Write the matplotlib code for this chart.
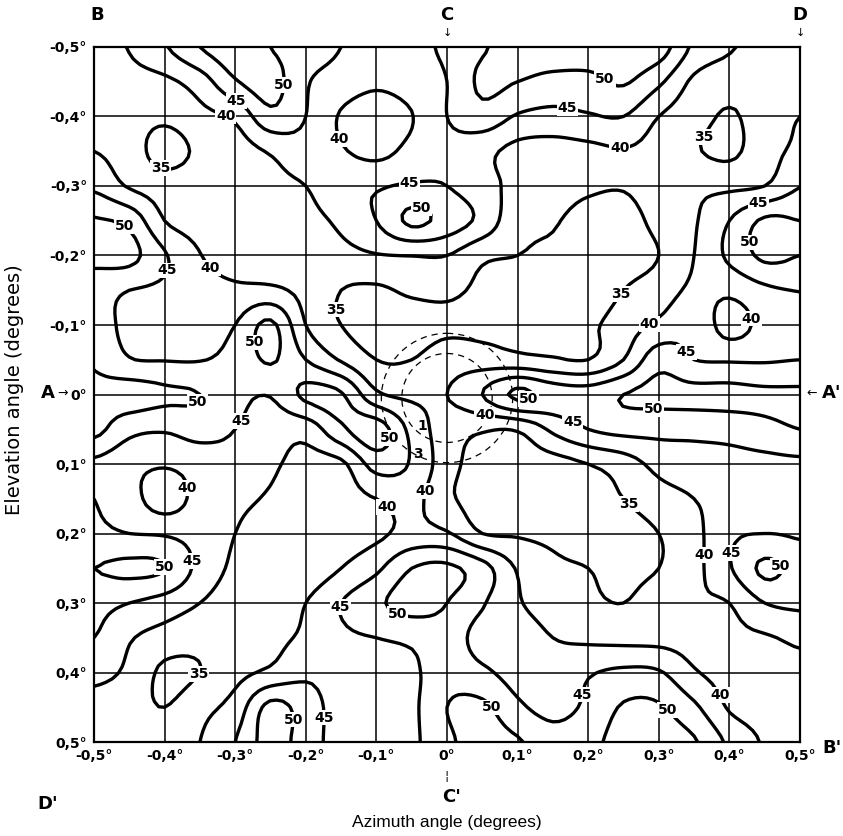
import matplotlib
matplotlib.use('Agg')
import matplotlib.pyplot as plt
import numpy as np
from matplotlib.patches import Circle

# grid nodes every 0.05 deg (azimuth left->right, elevation top->bottom)
azimuth = np.linspace(-0.5, 0.5, 21)
elevation = np.linspace(-0.5, 0.5, 21)
levels = [35, 40, 45, 50]

# values at the grid nodes
values = [
    [39, 40.2, 44.5, 50, 53, 50, 47.5, 45, 43, 43.5, 46, 49.5, 52, 53, 53, 53, 52.5, 44, 40.5, 38.5, 38],
    [38, 38.5, 39, 42.5, 49.5, 52, 45.5, 43, 41, 42.5, 45, 51, 50, 48.5, 48.5, 50.5, 46, 39, 37, 37, 38],
    [38.5, 37, 36, 38.5, 41, 48.5, 45, 39.5, 37, 39.8, 45, 48, 44.5, 43.5, 44.5, 45, 40, 37, 34.5, 37.5, 40],
    [40, 37.5, 33, 36, 37.5, 40.5, 43, 40.5, 38.5, 41.5, 43.5, 41.5, 38.5, 38, 38.5, 39.5, 38, 35.5, 34, 38, 41],
    [44, 39.5, 37.5, 37.5, 37, 38.5, 40, 43.5, 44.5, 45.5, 45, 42, 38.5, 37.5, 36, 35.5, 38, 39, 39, 40, 44.8],
    [50.5, 48.5, 40, 38, 37, 37.5, 38.5, 41, 45, 51, 48, 43.5, 36.5, 35.5, 33, 33, 36.5, 39.5, 45, 50.8, 50],
    [51.5, 51.5, 45.5, 40.2, 37.5, 37, 37.5, 38.5, 39.7, 40.1, 40.0, 36, 35, 34, 33, 33, 35, 40, 46, 51, 50],
    [47, 45, 44, 42, 41, 41, 38.5, 35, 34.3, 35.8, 36, 34, 32.5, 32, 32, 35, 37.5, 41, 41, 44, 45.2],
    [47.5, 43.5, 42, 42.5, 45, 51, 40, 35, 33, 33, 34, 33.5, 33, 33, 34, 37.5, 41, 43.5, 38, 41.5, 42],
    [49.5, 45.3, 44.8, 44.8, 46.5, 50.5, 45, 39.5, 35, 35, 37.5, 37.5, 36.5, 35.5, 35, 40, 48, 45, 44.5, 44.5, 45],
    [51, 52.5, 51, 50, 46.5, 45.3, 51, 50.5, 41, 39, 40, 45, 51, 48, 47.5, 50, 51.5, 51.5, 51.5, 51, 51],
    [51.5, 46.5, 45.5, 47, 45, 42.5, 42, 49, 52.5, 43.5, 37.5, 35.5, 35.5, 41, 45, 46.5, 46.5, 46.5, 47, 48.5, 50],
    [44, 41.5, 40.5, 42, 43, 40.8, 38.5, 39, 47, 44.5, 37, 33, 32.5, 33, 35, 37.5, 41.5, 42.5, 43, 43.5, 44],
    [45, 42, 37.5, 41.5, 41, 39.5, 38, 38, 40, 41.5, 36, 33, 32, 32, 33, 35, 38, 40, 42, 43, 44],
    [46, 45, 44.5, 43, 40, 38, 37.5, 37.5, 39, 41.5, 40.5, 35, 34.5, 34, 33.5, 33, 35, 38.5, 44, 45, 44.5],
    [50, 51, 50, 43.5, 39, 37.5, 37, 40, 44, 50, 51, 47, 39.5, 36, 35, 34, 35, 38.5, 44.5, 51, 48],
    [46.5, 45, 43, 40, 37.5, 37, 40, 45, 49, 52, 50, 45.5, 40.5, 38, 36, 35, 37.5, 39.5, 40, 45, 46],
    [45, 40.5, 38, 36.5, 37.5, 38.5, 41, 44, 45, 46, 47.5, 43, 42, 40, 39, 38.5, 38.5, 38.5, 39, 39.5, 41],
    [41.5, 39, 34, 35, 38.5, 41, 44, 43, 42.5, 44, 48, 46, 43, 42, 44.5, 46, 45.5, 40.5, 38.5, 38, 38.5],
    [38, 37, 35, 38.5, 42, 51.5, 47.5, 43, 43, 44, 50, 51, 46, 43.5, 46, 50.5, 50.5, 46, 39.5, 38, 38],
    [37, 37.5, 38.5, 40, 45, 52, 47.5, 43, 43, 44, 49, 52, 50.5, 47, 48.5, 52, 52, 50.5, 44, 39.5, 38],
]

tick_vals = [-0.5, -0.4, -0.3, -0.2, -0.1, 0.0, 0.1, 0.2, 0.3, 0.4, 0.5]
x_labels = ["-0,5°", "-0,4°", "-0,3°", "-0,2°", "-0,1°", "0°", "0,1°", "0,2°", "0,3°", "0,4°", "0,5°"]
y_labels = ["-0,5°", "-0,4°", "-0,3°", "-0,2°", "-0,1°", "0°", "0,1°", "0,2°", "0,3°", "0,4°", "0,5°"]

# where the level numbers sit on the lines
label_pos = [
    (-0.314, -0.399), (-0.297, -0.424), (-0.227, -0.445), (-0.402, -0.340), (-0.144, -0.371),
    (-0.052, -0.294), (-0.035, -0.270), (0.174, -0.431), (0.217, -0.444), (0.245, -0.359),
    (0.351, -0.377), (0.443, -0.268), (0.411, -0.218), (-0.459, -0.240), (-0.397, -0.179),
    (-0.331, -0.186), (-0.283, -0.074), (-0.159, -0.122), (0.245, -0.146), (0.285, -0.103),
    (0.433, -0.110), (0.337, -0.060), (-0.350, 0.015), (-0.299, 0.034), (-0.076, 0.063),
    (0.054, 0.025), (0.115, 0.004), (0.188, 0.019), (0.292, 0.029), (-0.028, 0.140),
    (-0.078, 0.155), (-0.368, 0.135), (0.256, 0.159), (0.368, 0.231), (0.405, 0.228),
    (0.476, 0.245), (-0.371, 0.241), (-0.399, 0.248), (-0.144, 0.307), (-0.076, 0.329),
    (-0.354, 0.401), (-0.211, 0.468), (-0.183, 0.465), (0.064, 0.450), (0.193, 0.432),
    (0.309, 0.458), (0.373, 0.440),
]


def smooth(z, n):
    # Catmull-Rom refinement along axis 0, only to draw rounder lines
    m = z.shape[0]
    t = np.linspace(0, m - 1, (m - 1) * n + 1)
    i = np.clip(np.floor(t).astype(int), 0, m - 2)
    u = (t - i)[:, None]
    p0 = z[np.clip(i - 1, 0, m - 1)]
    p1 = z[i]
    p2 = z[i + 1]
    p3 = z[np.clip(i + 2, 0, m - 1)]
    return 0.5 * (2 * p1 + (p2 - p0) * u + (2 * p0 - 5 * p1 + 4 * p2 - p3) * u ** 2
                  + (3 * p1 - p0 - 3 * p2 + p3) * u ** 3)


bold = ['Liberation Sans Narrow', 'DejaVu Sans']

fig = plt.figure(figsize=(8.43, 8.36), dpi=100)
ax = fig.add_axes([0.1115, 0.1124, 0.8375, 0.8314])

Z = np.array(values, dtype=float)
k = 6
Zf = smooth(smooth(Z, k).T, k).T
xf = np.linspace(azimuth[0], azimuth[-1], Zf.shape[1])
yf = np.linspace(elevation[0], elevation[-1], Zf.shape[0])

cs = ax.contour(xf, yf, Zf, levels=levels, colors='black', linewidths=2.4)
lbls = ax.clabel(cs, inline=False, fontsize=10, fmt='%d', manual=label_pos)
for t in lbls:
    t.set_rotation(0)
    t.set_fontweight('bold')
    t.set_family(bold)
    t.set_bbox(dict(facecolor='white', edgecolor='none', pad=0.6))

# dashed circles round the boresight
for r in (0.093, 0.064):
    ax.add_patch(Circle((0.0, 0.005), r, fill=False, ls=(0, (5, 4)), lw=0.9, color='black'))
ax.text(-0.035, 0.045, '1', fontsize=10, fontweight='bold', family=bold, ha='center', va='center')
ax.text(-0.041, 0.085, '3', fontsize=10, fontweight='bold', family=bold, ha='center', va='center')

ax.set_xlim(-0.5, 0.5)
ax.set_ylim(0.5, -0.5)
ax.set_xticks(tick_vals)
ax.set_yticks(tick_vals)
ax.set_xticklabels(x_labels, fontsize=10, fontweight='bold', family=bold)
ax.set_yticklabels(y_labels, fontsize=10, fontweight='bold', family=bold)
ax.tick_params(length=0, pad=5)
ax.grid(True, color='black', lw=1.1)
for s in ax.spines.values():
    s.set_linewidth(1.6)


def ftext(px, py, s, **kw):
    fig.text(px / 843, 1 - py / 836, s, ha='center', va='center', **kw)


big = dict(fontsize=13, fontweight='bold', family=bold)
ftext(97, 15, 'B', **big)
ftext(447, 15, 'C', **big)
ftext(447, 33, '↓', fontsize=8)
ftext(800, 15, 'D', **big)
ftext(800, 33, '↓', fontsize=8)
ftext(48, 393, 'A', **big)
ftext(63, 393, '→', fontsize=9)
ftext(812, 393, '←', fontsize=9)
ftext(832, 393, "A'", **big)
ftext(48, 804, "D'", **big)
ftext(447, 776, '¦', fontsize=9)
ftext(452, 797, "C'", **big)
ftext(832, 748, "B'", **big)

fig.text(15 / 843, 1 - 390 / 836, 'Elevation angle (degrees)', rotation=90, ha='center', va='center',
         fontsize=14, family=['Liberation Sans Narrow', 'DejaVu Sans'])
fig.text(447 / 843, 1 - 822 / 836, 'Azimuth angle (degrees)', ha='center', va='center',
         fontsize=12.5, family=['Liberation Sans', 'DejaVu Sans'])

fig.savefig('out.png', dpi=100)
